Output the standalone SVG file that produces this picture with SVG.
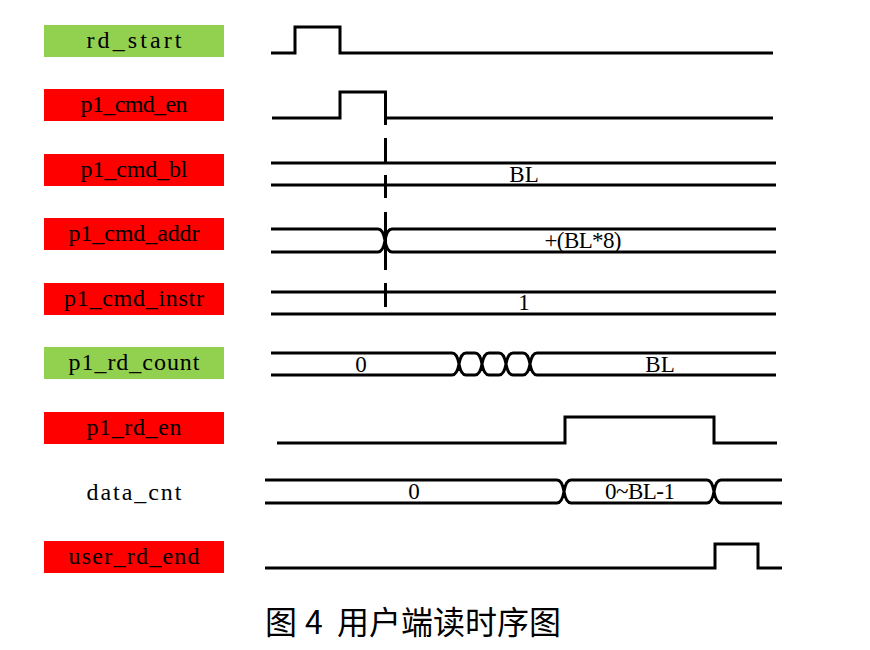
<svg xmlns="http://www.w3.org/2000/svg" width="870" height="650" viewBox="0 0 870 650">
<style>
.bg{fill:#fff}
.g{fill:#92D050}
.r{fill:#FF0000}
.lbl{font-family:"Liberation Serif","DejaVu Serif",serif;font-size:24px;fill:#000;text-anchor:middle}
.val{font-family:"Liberation Serif","DejaVu Serif",serif;font-size:23px;fill:#000;text-anchor:middle}
.w{fill:none;stroke:#000;stroke-width:3;stroke-linejoin:miter;stroke-linecap:butt}
.cap{font-family:"Noto Sans CJK SC","Noto Sans",sans-serif;font-size:32px;fill:#000}
</style>
<rect class="bg" x="0" y="0" width="870" height="650"/>

<g id="rd_start">
<rect class="g" x="44" y="25" width="180" height="32"/>
<text class="lbl" x="134" y="48" textLength="95" lengthAdjust="spacing">rd_start</text>
<path class="w" d="M271 53 H295 V27 H340 V53 H773"/>
</g>

<g id="p1_cmd_en">
<rect class="r" x="44" y="89" width="180" height="32"/>
<text class="lbl" x="134" y="112" textLength="107" lengthAdjust="spacing">p1_cmd_en</text>
<path class="w" d="M272 118 H340 V92 H385.5 V125 M385.5 118 H773"/>
</g>

<g id="p1_cmd_bl">
<rect class="r" x="44" y="154" width="180" height="32"/>
<text class="lbl" x="134" y="177" textLength="107" lengthAdjust="spacing">p1_cmd_bl</text>
<path class="w" d="M271 163 H776 M271 185 H776"/>
<text class="val" x="524" y="182">BL</text>
</g>

<g id="p1_cmd_addr">
<rect class="r" x="44" y="218" width="180" height="32"/>
<text class="lbl" x="134" y="241" textLength="131" lengthAdjust="spacing">p1_cmd_addr</text>
<path class="w" d="M271 229 H378 M392 229 H776 M271 252 H378 M392 252 H776 M378 229 Q383 229 385 240.5 Q387 252 392 252 M378 252 Q383 252 385 240.5 Q387 229 392 229"/>
<text class="val" x="583" y="248" textLength="77" lengthAdjust="spacing">+(BL*8)</text>
</g>

<g id="p1_cmd_instr">
<rect class="r" x="44" y="283" width="180" height="32"/>
<text class="lbl" x="134" y="306" textLength="140" lengthAdjust="spacing">p1_cmd_instr</text>
<path class="w" d="M271 292 H776 M271 314 H776"/>
<text class="val" x="524" y="310">1</text>
</g>

<g id="p1_rd_count">
<rect class="g" x="44" y="347" width="180" height="32"/>
<text class="lbl" x="134" y="370" textLength="131" lengthAdjust="spacing">p1_rd_count</text>
<path class="w" d="M271 353 H452 M466 353 H475 M489 353 H499 M513 353 H523 M537 353 H776 M271 375 H452 M466 375 H475 M489 375 H499 M513 375 H523 M537 375 H776
M452 353 Q457 353 459 364 Q461 375 466 375 M452 375 Q457 375 459 364 Q461 353 466 353
M475 353 Q480 353 482 364 Q484 375 489 375 M475 375 Q480 375 482 364 Q484 353 489 353
M499 353 Q504 353 506 364 Q508 375 513 375 M499 375 Q504 375 506 364 Q508 353 513 353
M523 353 Q528 353 530 364 Q532 375 537 375 M523 375 Q528 375 530 364 Q532 353 537 353"/>
<text class="val" x="361" y="372">0</text>
<text class="val" x="660" y="372">BL</text>
</g>

<g id="p1_rd_en">
<rect class="r" x="44" y="412" width="180" height="32"/>
<text class="lbl" x="134" y="435" textLength="95" lengthAdjust="spacing">p1_rd_en</text>
<path class="w" d="M277 443 H565 V417 H714 V443 H777"/>
</g>

<g id="data_cnt">
<text class="lbl" x="134" y="500" textLength="95" lengthAdjust="spacing">data_cnt</text>
<path class="w" d="M265 480 H557 M571 480 H707 M721 480 H782 M265 503 H557 M571 503 H707 M721 503 H782
M557 480 Q562 480 564 491.5 Q566 503 571 503 M557 503 Q562 503 564 491.5 Q566 480 571 480
M707 480 Q712 480 714 491.5 Q716 503 721 503 M707 503 Q712 503 714 491.5 Q716 480 721 480"/>
<text class="val" x="414" y="499">0</text>
<text class="val" x="640" y="499" textLength="70" lengthAdjust="spacing">0~BL-1</text>
</g>

<g id="user_rd_end">
<rect class="r" x="44" y="541" width="180" height="32"/>
<text class="lbl" x="134" y="564" textLength="131" lengthAdjust="spacing">user_rd_end</text>
<path class="w" d="M265 568 H715 V544 H758 V568 H782"/>
</g>

<g id="connectors">
<path class="w" d="M385.5 138 V162 M385.5 175 V198 M385.5 212 V270 M385.5 283 V307"/>
</g>

<text class="cap" y="634"><tspan x="265">图</tspan><tspan x="305">4</tspan><tspan x="337">用户端读时序图</tspan></text>
</svg>
